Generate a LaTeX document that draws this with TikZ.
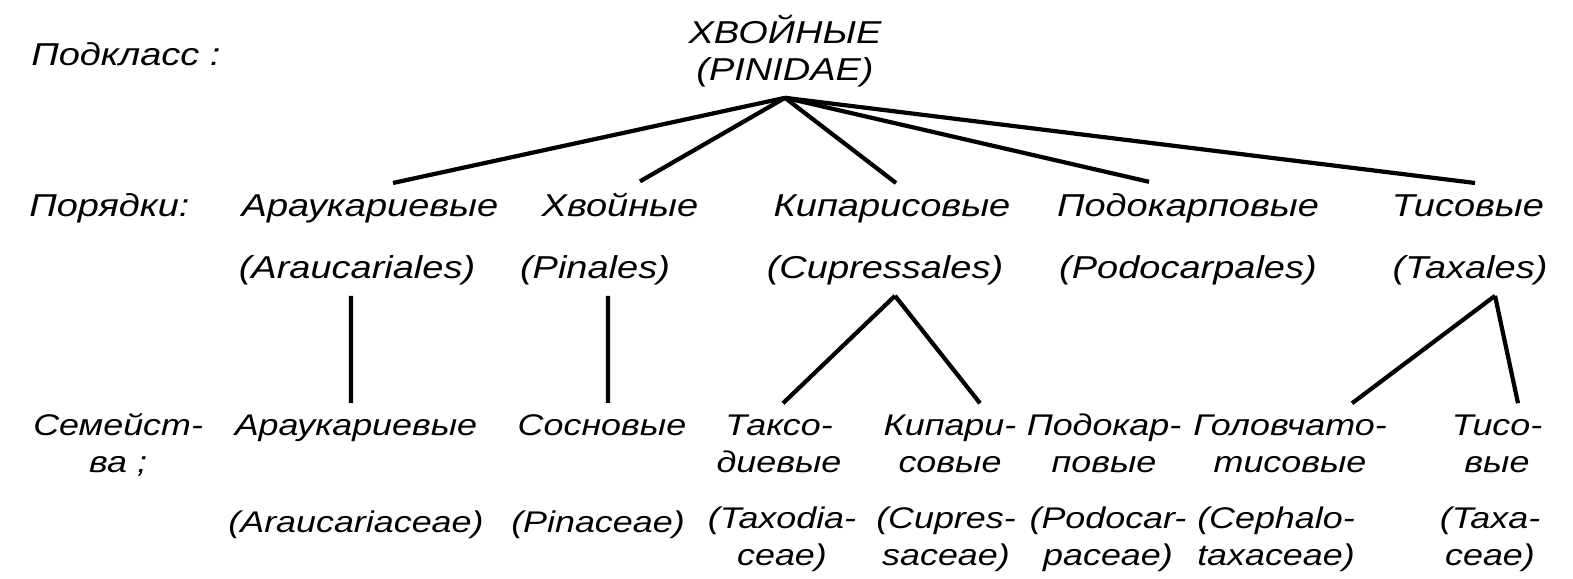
\documentclass[tikz,border=0pt]{standalone}
\usepackage{fontspec}
\setmainfont{Liberation Sans}[FakeStretch=1.2]
\tikzset{
  lbl/.style={font=\itshape\fontsize{9}{10.5}\selectfont, inner sep=3pt, align=center, anchor=base},
  famlbl/.style={lbl, font=\itshape\fontsize{8.5}{10.5}\selectfont},
}
\begin{document}
\begin{tikzpicture}[x=0.01cm,y=-0.01cm]
      \useasboundingbox (0,0) rectangle (1573,578);
      \draw[every node/.style={lbl}]
        (20,65) node[anchor=base west] (subcl){Подкласс :}
        (785,80) node (top){ХВОЙНЫЕ\\(PINIDAE)}
        (18,216) node[anchor=base west] (ordl){Порядки:}
        (370,216) node (ord1){Араукариевые}
        (620,216) node (ord2){Хвойные}
        (892,216) node (ord3){Кипарисовые}
        (1188,216) node (ord4){Подокарповые}
        (1468,216) node (ord5){Тисовые}
        (357,278) node (lat1){(Araucariales)}
        (595,278) node (lat2){(Pinales)}
        (885,278) node (lat3){(Cupressales)}
        (1188,278) node (lat4){(Podocarpales)}
        (1470,278) node (lat5){(Taxales)};
      \draw[every node/.style={famlbl}]
        (22,472) node[anchor=base west] (faml){Семейст-\\ва ;}
        (356,435) node (fam1){Араукариевые}
        (602,435) node (fam2){Сосновые}
        (779,472) node (fam3){Таксо-\\диевые}
        (950,472) node (fam4){Кипари-\\совые}
        (1104,472) node (fam5){Подокар-\\повые}
        (1290,472) node (fam6){Головчато-\\тисовые}
        (1497,472) node (fam7){Тисо-\\вые}
        (356,532) node (lf1){(Araucariaceae)}
        (598,532) node (lf2){(Pinaceae)}
        (782,565) node (lf3){(Taxodia-\\ceae)}
        (946,565) node (lf4){(Cupres-\\saceae)}
        (1108,565) node (lf5){(Podocar-\\paceae)}
        (1276,565) node (lf6){(Cephalo-\\taxaceae)}
        (1490,565) node (lf7){(Taxa-\\ceae)};
      \begin{scope}[very thick]
        \draw (top.south) to ([xshift=.23cm]ord1.north);
        \draw (top.south) to ([xshift=.2cm]ord2.north);
        \draw (top.south) to ([xshift=.04cm]ord3.north);
        \draw (top.south) to ([xshift=-.39cm]ord4.north);
        \draw (top.south) to ([xshift=.07cm]ord5.north);
        \draw ([xshift=-.06cm]lat1.south) to ([xshift=-.05cm]fam1.north);
        \draw ([xshift=.13cm]lat2.south) to ([xshift=.06cm]fam2.north);
        \draw ([xshift=.1cm]lat3.south) to ([xshift=.04cm]fam3.north);
        \draw ([xshift=.1cm]lat3.south) to ([xshift=.3cm]fam4.north);
        \draw ([xshift=.25cm]lat5.south) to ([xshift=.62cm]fam6.north);
        \draw ([xshift=.25cm]lat5.south) to ([xshift=.21cm]fam7.north);
      \end{scope}
    \end{tikzpicture}
\end{document}
